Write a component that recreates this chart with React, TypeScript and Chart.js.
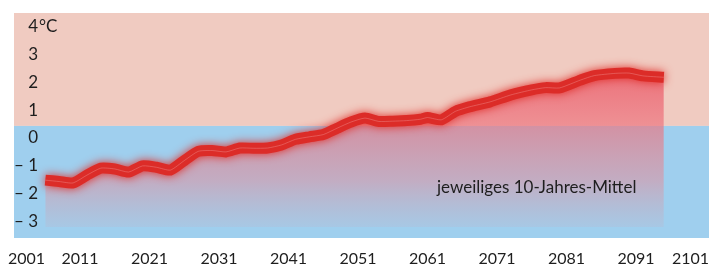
import { useEffect, useRef } from "react";
import { Chart, registerables } from "chart.js";

Chart.register(...registerables);

// ---- data ----
const years = [
  2006, 2008, 2010, 2012, 2014, 2016, 2018, 2020, 2022, 2024, 2026, 2028, 2030, 2032,
  2034, 2036, 2038, 2040, 2042, 2044, 2046, 2048, 2050, 2052, 2054, 2056, 2058, 2060,
  2061, 2063, 2065, 2067, 2070, 2073, 2076, 2078, 2080, 2083, 2085, 2088, 2090, 2092, 2095,
];
const anomaly = [
  -1.58, -1.63, -1.68, -1.4, -1.15, -1.18, -1.29, -1.07, -1.12, -1.22, -0.88, -0.55, -0.52, -0.57,
  -0.43, -0.44, -0.43, -0.32, -0.12, -0.03, 0.05, 0.28, 0.5, 0.64, 0.52, 0.53, 0.55, 0.6,
  0.66, 0.58, 0.88, 1.04, 1.22, 1.47, 1.65, 1.73, 1.72, 2.0, 2.16, 2.24, 2.25, 2.15, 2.1,
];
const xTickYears = [2001, 2011, 2021, 2031, 2041, 2051, 2061, 2071, 2081, 2091, 2101];
const yTickValues = [4, 3, 2, 1, 0, -1, -2, -3];
const yTickLabels = ["4", "3", "2", "1", "0", "\u2013 1", "\u2013 2", "\u2013 3"];
const yUnit = "°C";
const legendText = "jeweiliges 10-Jahres-Mittel";
const zoneBoundary = 0.36;
const fillBase = -3.26;

const PINK = "rgb(240,203,193)";
const BLUE = "rgb(159,207,238)";
const FONT = "Lato, 'Open Sans', 'DejaVu Sans', sans-serif";

export default function App() {
  const ref = useRef<HTMLCanvasElement>(null);

  useEffect(() => {
    const canvas = ref.current;
    if (!canvas) return;
    const points = years.map((y, i) => ({ x: y, y: anomaly[i] }));

    const zones = {
      id: "zones",
      beforeDraw(chart: any) {
        const { ctx, chartArea: a, scales } = chart;
        const yb = scales.y.getPixelForValue(zoneBoundary);
        ctx.save();
        ctx.fillStyle = PINK;
        ctx.fillRect(a.left, a.top, a.right - a.left, yb - a.top);
        ctx.fillStyle = BLUE;
        ctx.fillRect(a.left, yb, a.right - a.left, a.bottom - yb);
        ctx.restore();
      },
    };

    const glow = {
      id: "glow",
      beforeDatasetDraw(chart: any, args: any) {
        if (args.index === 1) {
          chart.ctx.save();
          chart.ctx.shadowColor = "rgba(225,45,40,1)";
          chart.ctx.shadowBlur = 10;
        }
      },
      afterDatasetDraw(chart: any, args: any) {
        if (args.index === 1) chart.ctx.restore();
      },
    };

    const labels = {
      id: "labels",
      afterDraw(chart: any) {
        const { ctx, scales, width } = chart;
        ctx.save();
        ctx.fillStyle = "#1e1e1e";
        ctx.font = `16px ${FONT}`;
        ctx.textBaseline = "alphabetic";
        // x labels
        xTickYears.forEach((yr) => {
          const t = String(yr);
          const w = ctx.measureText(t).width;
          let x = scales.x.getPixelForValue(yr) - w / 2;
          if (x < 8) x = 8;
          if (x + w > width) x = width - w;
          ctx.textAlign = "left";
          ctx.fillText(t, x, 264);
        });
        // y labels
        ctx.font = `17px ${FONT}`;
        yTickValues.forEach((v, i) => {
          const y = scales.y.getPixelForValue(v) + 7.5;
          ctx.textAlign = "right";
          ctx.fillText(yTickLabels[i], 38, y);
          if (i === 0) {
            ctx.textAlign = "left";
            ctx.fillText(yUnit, 39, y);
          }
        });
        // legend text
        ctx.font = `17px ${FONT}`;
        ctx.textAlign = "left";
        ctx.fillText(legendText, 437, 193);
        ctx.restore();
      },
    };

    const chart = new Chart(canvas, {
      type: "line",
      data: {
        datasets: [
          {
            data: points,
            borderWidth: 0,
            pointRadius: 0,
            tension: 0.2,
            order: 3,
            fill: { value: fillBase },
            backgroundColor: (c: any) => {
              const { chart } = c;
              const { chartArea, scales } = chart;
              if (!chartArea) return "rgba(235,115,125,0.5)";
              const y0 = scales.y.getPixelForValue(2.3);
              const y1 = scales.y.getPixelForValue(fillBase);
              const g = chart.ctx.createLinearGradient(0, y0, 0, y1);
              g.addColorStop(0, "rgba(235,100,112,0.88)");
              g.addColorStop(0.7, "rgba(240,128,138,0.44)");
              g.addColorStop(1, "rgba(225,150,160,0.12)");
              return g;
            },
          },
          {
            data: points,
            borderColor: "rgb(220,44,40)",
            borderWidth: 11,
            borderCapStyle: "butt",
            borderJoinStyle: "round",
            pointRadius: 0,
            tension: 0.2,
            fill: false,
            order: 2,
          },
          {
            data: points,
            borderColor: "rgba(240,140,140,0.45)",
            borderWidth: 1,
            pointRadius: 0,
            tension: 0.2,
            fill: false,
            order: 1,
          },
        ],
      },
      options: {
        animation: false,
        responsive: false,
        devicePixelRatio: 1,
        events: [],
        layout: { padding: { left: 14, right: 0, top: 13, bottom: 28 } },
        scales: {
          x: { type: "linear", min: 2001.5, max: 2101.5, display: false },
          y: { type: "linear", min: -3.65, max: 4.4, display: false },
        },
        plugins: { legend: { display: false }, tooltip: { enabled: false } },
      },
      plugins: [zones, glow, labels],
    } as any);

    return () => chart.destroy();
  }, []);

  return (
    <div style={{ position: "absolute", left: 0, top: 0, width: 709, height: 266, background: "#fff" }}>
      <canvas ref={ref} width={709} height={266} style={{ display: "block" }} />
    </div>
  );
}
